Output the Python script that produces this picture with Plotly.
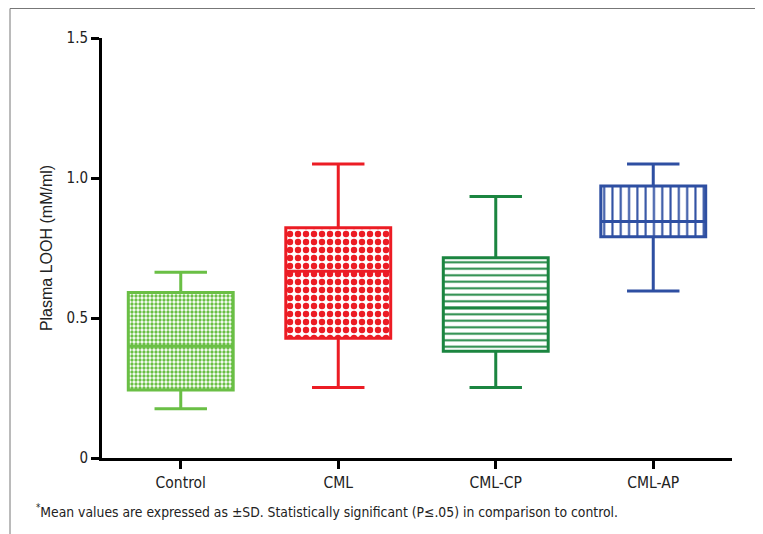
import plotly.graph_objects as go

categories = ["Control", "CML", "CML-CP", "CML-AP"]
lower = [0.176, 0.252, 0.252, 0.596]
q1 = [0.243, 0.428, 0.381, 0.790]
median = [0.399, 0.667, 0.536, 0.845]
q3 = [0.591, 0.822, 0.715, 0.971]
upper = [0.663, 1.050, 0.934, 1.050]

colors = ["#6abf45", "#ec1c24", "#1b8540", "#2e4fa2"]
patterns = [".", ".", "-", "|"]
psize = [4, 8, 6.5, 8.3]
psolid = [0.55, 0.5, 0.3, 0.25]

yticks = [0, 0.5, 1.0, 1.5]
yticktext = ["0", "0.5", "1.0", "1.5"]

# page body has an 8px margin, so the figure is drawn from (8, 8)
W, H = 755, 526
ML, MR, MT, MB = 94, 31, 30, 76
PW, PH = W - ML - MR, H - MT - MB

BW = 0.666
fig = go.Figure()
for i, c in enumerate(categories):
    fig.add_trace(go.Bar(
        x=[c], base=[q1[i]], y=[q3[i] - q1[i]], width=BW,
        marker=dict(color="white",
                    pattern=dict(shape=patterns[i], fgcolor=colors[i], bgcolor="white",
                                 fgopacity=1, size=psize[i], solidity=psolid[i],
                                 fillmode="overlay"),
                    line=dict(width=0)),
        showlegend=False, hoverinfo="skip"))
for i, c in enumerate(categories):
    fig.add_trace(go.Box(
        x=[c], q1=[q1[i]], median=[median[i]], q3=[q3[i]],
        lowerfence=[lower[i]], upperfence=[upper[i]],
        width=BW, whiskerwidth=0.5,
        line=dict(color=colors[i], width=3), fillcolor="rgba(0,0,0,0)",
        showlegend=False, boxpoints=False))

fam = "DejaVu Sans Condensed, Liberation Sans Narrow, sans-serif"
fig.update_layout(
    width=W, height=H,
    margin=dict(l=ML, r=MR, t=MT, b=MB),
    paper_bgcolor="white", plot_bgcolor="white",
    barmode="overlay", boxmode="overlay",
    xaxis=dict(categoryorder="array", categoryarray=categories, range=[-0.5, 3.5],
               showline=True, linecolor="black", linewidth=3,
               ticks="outside", ticklen=8, tickwidth=3, tickcolor="black",
               tickfont=dict(family=fam, size=15.5, color="#222"),
               showgrid=False, zeroline=False, fixedrange=True),
    yaxis=dict(range=[0, 1.5], tickvals=yticks, ticktext=yticktext,
               showline=True, linecolor="black", linewidth=3,
               ticks="outside", ticklen=8, tickwidth=3, tickcolor="black",
               tickfont=dict(family=fam, size=15, color="#222"),
               showgrid=False, zeroline=False,
               title=dict(text="Plasma LOOH (mM/ml)",
                          font=dict(family="Liberation Sans, Arial, sans-serif", size=16, color="#222"),
                          standoff=10)),
    shapes=[dict(type="rect", xref="paper", yref="paper",
                 x0=(2 - ML) / PW, x1=(752 - ML) / PW,
                 y0=-0.3, y1=(MT + PH - 0.5) / PH,
                 line=dict(color="#777", width=1), fillcolor="rgba(0,0,0,0)", layer="below")],
    annotations=[dict(xref="paper", yref="paper", x=(26 - ML) / PW, y=(MT + PH - 503) / PH,
                      xanchor="left", yanchor="middle", showarrow=False,
                      text="<sup>*</sup>Mean values are expressed as ±SD. Statistically significant (P≤.05) in comparison to control.",
                      font=dict(family=fam, size=13.8, color="#222"))],
)
fig.write_html("out.html")
